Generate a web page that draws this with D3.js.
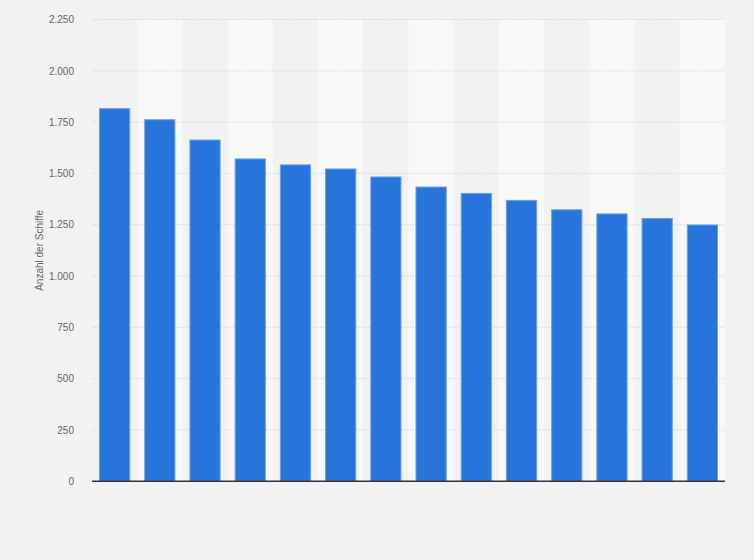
<!DOCTYPE html>
<meta charset="utf-8">
<style>
html, body {
  margin: 0;
  background: #f2f2f2;
}

.chart {
  display: block;
  font-family: Arial, "Liberation Sans", sans-serif;
}

.chart .band-alt {
  fill: #f8f8f8;
}

.chart .bar {
  fill: #2775db;
  stroke: #6a9fe8;
  stroke-width: 1;
}

.chart .grid line {
  stroke: #d6d6d6;
  stroke-dasharray: 1.5, 1.5;
}

.chart .y-axis text {
  fill: #666;
  font-size: 10px;
}

.chart .baseline {
  stroke: #333;
  stroke-width: 1.5;
}

.chart .axis-title {
  fill: #666;
  font-size: 10px;
}
</style>
<body>
<svg class="chart"></svg>

<script src="https://d3js.org/d3.v7.min.js"></script>
<script>
"use strict";

// 14 Rangplätze (Kategorien ohne Beschriftung im Original)
var categories = ["1", "2", "3", "4", "5", "6", "7", "8", "9", "10", "11", "12", "13", "14"];
var ships = [1818, 1764, 1665, 1573, 1544, 1524, 1485, 1436, 1405, 1371, 1325, 1305, 1283, 1251];
var yTicks = [0, 250, 500, 750, 1000, 1250, 1500, 1750, 2000, 2250];

var container = { width: 754, height: 560 },
  margin = { top: 19.5, right: 29, bottom: 78.8, left: 92 },
  width = container.width - margin.left - margin.right,
  height = container.height - margin.top - margin.bottom;

var svg = d3.select(".chart")
  .attr("width", container.width)
  .attr("height", container.height);

var g = svg.append("g")
  .attr("transform", "translate(" + margin.left + "," + margin.top + ")");

var x = d3.scaleBand()
  .domain(categories)
  .range([0, width])
  .paddingInner(0.31)
  .paddingOuter(0.155);

var y = d3.scaleLinear()
  .domain([0, 2250])
  .range([height, 0]);

var fmt = function(d) { return d3.format(",")(d).replace(/,/g, "."); };

// alternating column backgrounds
g.append("g").selectAll("rect")
  .data(categories.filter(function(d, i) { return i % 2 === 1; }))
  .join("rect")
  .attr("class", "band-alt")
  .attr("x", function(d) { return x(d) - x.step() * x.paddingInner() / 2; })
  .attr("y", 0)
  .attr("width", x.step())
  .attr("height", height);

// grid lines
g.append("g")
  .attr("class", "grid")
  .selectAll("line")
  .data(yTicks.filter(function(d) { return d > 0; }))
  .join("line")
  .attr("x1", 0)
  .attr("x2", width)
  .attr("y1", function(d) { return y(d); })
  .attr("y2", function(d) { return y(d); });

// y axis labels
var yAxis = g.append("g")
  .attr("class", "y-axis")
  .attr("transform", "translate(-15,0)")
  .call(d3.axisLeft(y).tickValues(yTicks).tickFormat(fmt).tickSize(0));
yAxis.select(".domain").remove();

g.selectAll(".bar")
  .data(ships)
  .join("rect")
  .attr("class", "bar")
  .attr("x", function(d, i) { return x(categories[i]) + 0.5; })
  .attr("y", function(d) { return y(d) + 0.5; })
  .attr("width", x.bandwidth() - 1)
  .attr("height", function(d) { return height - y(d) - 0.5; });

g.append("line")
  .attr("class", "baseline")
  .attr("x1", 0)
  .attr("x2", width)
  .attr("y1", height)
  .attr("y2", height);

g.append("text")
  .attr("class", "axis-title")
  .attr("transform", "translate(-49," + (height / 2) + ") rotate(-90)")
  .attr("text-anchor", "middle")
  .text("Anzahl der Schiffe");
</script>
</body>
